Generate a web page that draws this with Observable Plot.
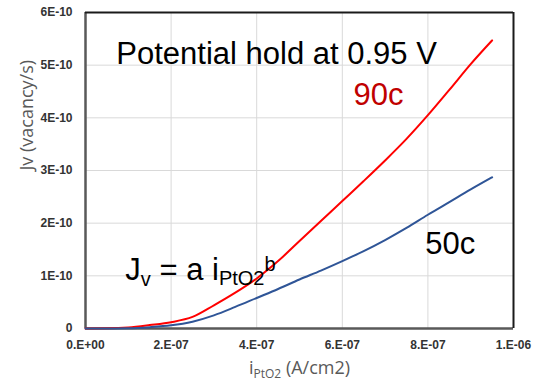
<!DOCTYPE html>
<html>
<head>
<meta charset="utf-8">
<script src="https://cdn.jsdelivr.net/npm/d3@7"></script>
<script src="https://cdn.jsdelivr.net/npm/@observablehq/plot@0.6"></script>
<style>
  html, body { margin: 0; padding: 0; background: #fff; }
  #chart { width: 549px; height: 390px; }
</style>
</head>
<body>
<div id="chart"></div>
<script>
// ---- data ----
const xTicks = [0, 2e-7, 4e-7, 6e-7, 8e-7, 1e-6];
const xTickLabels = ["0.E+00", "2.E-07", "4.E-07", "6.E-07", "8.E-07", "1.E-06"];
const yTicks = [0, 1e-10, 2e-10, 3e-10, 4e-10, 5e-10, 6e-10];
const yTickLabels = ["0", "1E-10", "2E-10", "3E-10", "4E-10", "5E-10", "6E-10"];

const i90 = [0, 0.5e-7, 1.0e-7, 1.5e-7, 2.0e-7, 2.5e-7, 3.0e-7, 3.5e-7, 4.0e-7, 4.5e-7, 5.0e-7, 5.5e-7, 6.0e-7, 6.5e-7, 7.0e-7, 7.5e-7, 8.0e-7, 8.5e-7, 9.0e-7, 9.5e-7];
const jv90 = [0, 0.003e-10, 0.02e-10, 0.065e-10, 0.12e-10, 0.22e-10, 0.44e-10, 0.68e-10, 0.95e-10, 1.28e-10, 1.66e-10, 2.04e-10, 2.42e-10, 2.80e-10, 3.19e-10, 3.60e-10, 4.05e-10, 4.53e-10, 5.02e-10, 5.47e-10];

const i50 = [0, 0.5e-7, 1.0e-7, 1.5e-7, 2.0e-7, 2.5e-7, 3.0e-7, 3.5e-7, 4.0e-7, 4.5e-7, 5.0e-7, 5.5e-7, 6.0e-7, 6.5e-7, 7.0e-7, 7.5e-7, 8.0e-7, 8.5e-7, 9.0e-7, 9.5e-7];
const jv50 = [0, 0.001e-10, 0.005e-10, 0.025e-10, 0.06e-10, 0.13e-10, 0.25e-10, 0.41e-10, 0.58e-10, 0.75e-10, 0.93e-10, 1.10e-10, 1.28e-10, 1.47e-10, 1.68e-10, 1.91e-10, 2.16e-10, 2.40e-10, 2.64e-10, 2.87e-10];

const noteTexts = ["Potential hold at 0.95 V", "90c", "50c"];
const noteX = [0.72e-7, 6.26e-7, 7.94e-7];
const noteY = [5.02e-10, 4.24e-10, 1.41e-10];
const noteColors = ["#000000", "#c00000", "#000000"];

const eqText = "Jv = a iPtO2b";
const eqX = [0.93e-7];
const eqY = [0.93e-10];

const xTitle = "iPtO2 (A/cm2)";
const yTitle = "Jv (vacancy/s)";

// ---- build tables ----
const s90 = i90.map((x, k) => ({x, y: jv90[k]}));
const s50 = i50.map((x, k) => ({x, y: jv50[k]}));
const notes = noteTexts.map((t, k) => ({t, x: noteX[k], y: noteY[k], c: noteColors[k]}));

const font = "'Liberation Sans', Arial, sans-serif";

const chart = Plot.plot({
  width: 549,
  height: 390,
  marginLeft: 85,
  marginRight: 36,
  marginTop: 12,
  marginBottom: 62,
  style: {fontFamily: font, background: "#fff"},
  x: {domain: [0, 1e-6]},
  y: {domain: [0, 6e-10]},
  marks: [
    Plot.gridX(xTicks, {stroke: "#d9d9d9", strokeOpacity: 1, strokeWidth: 1}),
    Plot.gridY(yTicks, {stroke: "#d9d9d9", strokeOpacity: 1, strokeWidth: 1}),
    Plot.axisX(xTicks, {tickSize: 0, tickPadding: 12, fontSize: 12, fontWeight: "bold", fill: "#333",
      tickFormat: d => xTickLabels[xTicks.indexOf(d)], label: null}),
    Plot.axisY(yTicks, {tickSize: 0, tickPadding: 13, fontSize: 12, fontWeight: "bold", fill: "#333",
      tickFormat: d => yTickLabels[yTicks.indexOf(d)], label: null}),
    Plot.ruleX([0], {stroke: "#595959", strokeWidth: 2.5}),
    Plot.ruleY([0], {stroke: "#595959", strokeWidth: 2.5}),
    Plot.ruleY([6e-10], {stroke: "#1a1a1a", strokeWidth: 2}),
    Plot.ruleX([1e-6], {stroke: "#1a1a1a", strokeWidth: 2}),
    Plot.line(s90, {x: "x", y: "y", stroke: "#ff0000", strokeWidth: 2, curve: "monotone-x"}),
    Plot.line(s50, {x: "x", y: "y", stroke: "#2f5597", strokeWidth: 2, curve: "monotone-x"}),
    Plot.text(notes, {x: "x", y: "y", text: "t", fill: "c", fontSize: 31, textAnchor: "start", lineAnchor: "bottom", fontFamily: font}),
    Plot.text([eqText], {x: eqX, y: eqY, text: d => d, fontSize: 31, textAnchor: "start", lineAnchor: "bottom", fill: "#000", fontFamily: font}),
    Plot.text([xTitle], {frameAnchor: "bottom", dy: 40, text: d => d, fontSize: 18, fill: "#595959", fontFamily: "'Open Sans', sans-serif", lineAnchor: "middle"}),
    Plot.text([yTitle], {frameAnchor: "left", dx: -58, rotate: -90, text: d => d, fontSize: 18, fill: "#595959", fontFamily: "'Open Sans', sans-serif", lineAnchor: "middle"})
  ]
});

document.getElementById("chart").appendChild(chart);

// ---- rich text (subscripts / superscripts) ----
function rebuild(match, parts) {
  d3.select(chart).selectAll("text").filter(function() { return this.textContent === match; })
    .each(function() {
      const t = d3.select(this);
      t.text(null);
      for (const p of parts) {
        const ts = t.append("tspan").text(p.s);
        if (p.size) ts.attr("font-size", p.size);
        if (p.dy) ts.attr("dy", p.dy);
      }
    });
}
rebuild(eqText, [
  {s: "J"}, {s: "v", size: 20, dy: 6}, {s: " = a i", dy: -6},
  {s: "PtO2", size: 20, dy: 5}, {s: "b", size: 20, dy: -14}
]);
rebuild(xTitle, [{s: "i"}, {s: "PtO2", size: 12, dy: 4}, {s: " (A/cm2)", dy: -4}]);
</script>
</body>
</html>
